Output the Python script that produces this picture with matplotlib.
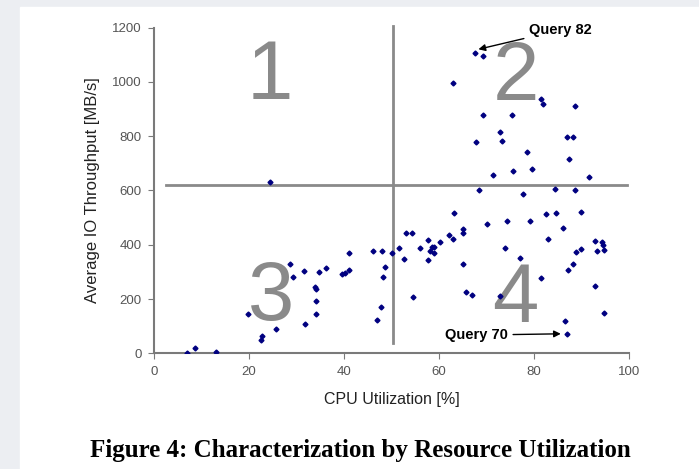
import matplotlib.pyplot as plt

# CPU utilization [%] and average IO throughput [MB/s]
cpu = [7.0, 8.5, 13.1, 19.7, 22.5, 22.6, 25.7, 24.3, 28.5, 29.2,
       31.5, 31.7, 34.0, 34.1, 34.0, 34.6, 36.2, 39.6, 40.1, 41.1,
       41.0, 46.0, 46.9, 47.9, 47.8, 48.1, 48.5, 50.0, 51.5, 52.7,
       53.1, 54.3, 54.4, 55.9, 57.7, 57.7, 58.1, 58.4, 59.0, 58.9,
       60.2, 62.1, 63.0, 63.1, 62.9, 65.0, 65.1, 65.1, 65.6, 66.9,
       67.6, 69.2, 67.7, 68.4, 69.2, 70.1, 71.4, 72.8, 73.2, 72.9,
       73.9, 74.3, 75.3, 75.6, 77.1, 77.7, 78.6, 79.1, 79.5, 81.5,
       81.8, 81.5, 82.4, 83.0, 84.3, 84.6, 86.0, 86.4, 87.0, 86.9,
       88.1, 87.4, 87.2, 88.1, 88.6, 88.6, 88.8, 89.9, 89.9, 91.5,
       92.8, 92.9, 93.3, 94.2, 94.6, 94.7, 94.7, 33.9]
io = [2, 18, 6, 146, 49, 65, 90, 633, 328, 281,
      305, 108, 237, 192, 146, 301, 316, 294, 297, 370,
      307, 376, 123, 378, 171, 283, 319, 368, 388, 348,
      445, 442, 206, 387, 419, 345, 378, 393, 393, 368,
      411, 436, 420, 516, 995, 459, 442, 328, 225, 214,
      1108, 1096, 780, 602, 877, 477, 658, 814, 781, 210,
      387, 489, 877, 672, 352, 586, 743, 488, 678, 936,
      918, 279, 512, 420, 604, 518, 463, 119, 72, 797,
      797, 717, 306, 328, 910, 602, 372, 383, 521, 650,
      248, 413, 378, 409, 400, 381, 150, 243]

quad_x = 50.2
quad_y = 619
quad_labels = ["1", "2", "3", "4"]
quad_pos = [(24.4, 1018), (76.2, 1015), (24.7, 204), (76.0, 198)]

fig = plt.figure(figsize=(6.99, 4.69), dpi=100, facecolor="#eceef2")
# white page behind everything
fig.patches.append(plt.Rectangle((20 / 699, 0), 1, 1 - 7 / 469,
                                 transform=fig.transFigure, color="white", zorder=-5))

ax = fig.add_axes([0.2206, 0.2467, 0.6794, 0.6943])
ax.set_facecolor("white")
ax.set_xlim(0, 100)
ax.set_ylim(0, 1200)

ax.plot([quad_x, quad_x], [37, 1207], color="#8a8a8a", lw=2, clip_on=False, zorder=1)
ax.plot([2.4, 99.6], [quad_y, quad_y], color="#8a8a8a", lw=2, clip_on=False, zorder=1)

for lab, (qx, qy) in zip(quad_labels, quad_pos):
    ax.text(qx, qy, lab, fontsize=60, color="#8a8a8a", ha="center", va="center",
            family="Liberation Sans", zorder=2)

ax.plot(cpu, io, linestyle="none", marker="D", markersize=2.5, color="#000080", zorder=3)

ax.annotate("Query 82", xy=(67.7, 1118), xytext=(79.0, 1192),
            fontsize=10.5, fontweight="bold", family="Liberation Sans", va="center",
            arrowprops=dict(arrowstyle="-|>", color="black", lw=1, mutation_scale=10))
ax.annotate("Query 70", xy=(86.2, 72), xytext=(74.4, 67),
            fontsize=10.5, fontweight="bold", family="Liberation Sans", va="center", ha="right",
            arrowprops=dict(arrowstyle="-|>", color="black", lw=1, mutation_scale=10))

for s in ["top", "right"]:
    ax.spines[s].set_visible(False)
for s in ["left", "bottom"]:
    ax.spines[s].set_color("#7a7a7a")
    ax.spines[s].set_linewidth(1.5)

ax.set_xticks(range(0, 101, 20))
ax.set_yticks(range(0, 1201, 200))
ax.tick_params(direction="out", length=4, color="#7a7a7a", labelcolor="#555555",
               labelsize=9.5, pad=5)
for t in ax.get_xticklabels() + ax.get_yticklabels():
    t.set_family(["Liberation Sans Narrow", "Liberation Sans"])

ax.set_xlabel("CPU Utilization [%]", fontsize=11.5, family="Liberation Sans",
              color="#222222", labelpad=10)
ax.set_ylabel("Average IO Throughput [MB/s]", fontsize=12, family="Liberation Sans",
              color="#222222", labelpad=9)

fig.text(0.515, 0.04, "Figure 4: Characterization by Resource Utilization",
         fontsize=18, fontweight="bold", family="Liberation Serif", ha="center", va="center")

fig.savefig("out.png", dpi=100, facecolor=fig.get_facecolor())
